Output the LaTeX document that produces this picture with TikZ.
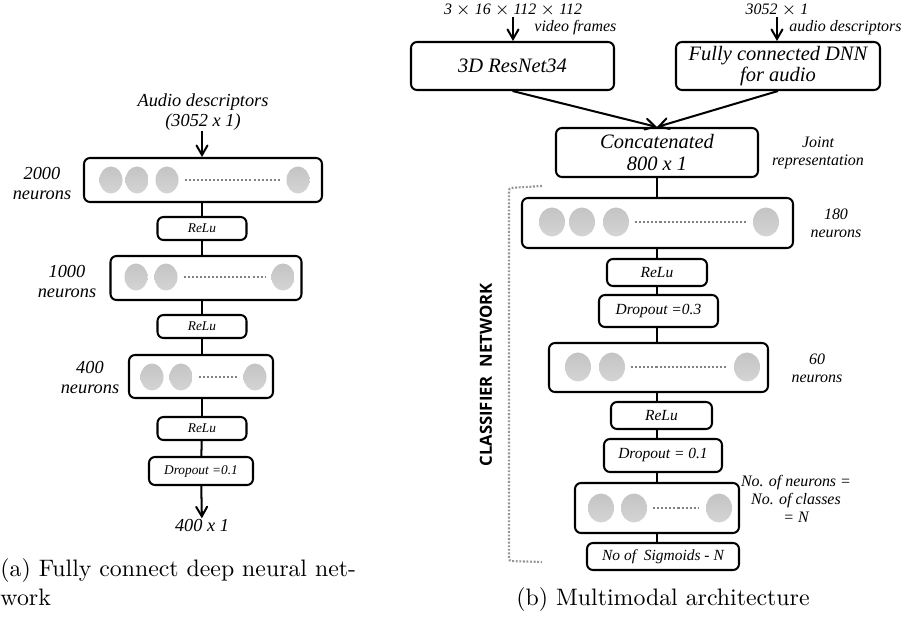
\documentclass[tikz,border=0pt]{standalone}
\usepackage{fontspec}
\newfontfamily\cambria{Liberation Serif}
\newfontfamily\calibri{Open Sans}
\usetikzlibrary{arrows}
\usetikzlibrary{shapes.geometric}
\definecolor{unittop}{RGB}{196,196,196}
\definecolor{unitbot}{RGB}{212,212,212}
\definecolor{dotgray}{RGB}{130,130,130}
\tikzset{
  wh/.style 2 args={minimum width=#1*0.42pt, minimum height=#2*0.42pt},
  layer/.style={draw, line width=0.85pt, rounded corners=2.5pt, fill=white, inner sep=0},
  opl/.style={layer, font=\cambria\itshape\fontsize{5.6}{6.5}\selectfont},
  opr/.style={layer, font=\cambria\itshape\fontsize{6.5}{7.5}\selectfont},
  blk/.style={layer, align=center, font=\cambria\itshape\fontsize{8.6}{9}\selectfont},
  lbll/.style={align=center, inner sep=0, font=\cambria\itshape\fontsize{7.7}{8.4}\selectfont},
  lblr/.style={align=center, inner sep=0, font=\cambria\itshape\fontsize{6.7}{7.6}\selectfont},
  unit/.style={ellipse, inner sep=0, top color=unittop, bottom color=unitbot},
  dots/.style={draw=dotgray, line width=0.9pt, dash pattern=on 0.85pt off 0.85pt,
    shorten >=2.6pt, shorten <=2.4pt},
  link/.style={line width=0.85pt},
  arrow/.style={->, >=angle 60, line width=0.85pt}
}

\begin{document}
\begin{tikzpicture}[x=0.42pt, y=-0.42pt]
\useasboundingbox (0,0) rectangle (906,623);

% (a) fully connected DNN
\node[lbll] (ain) at (203,112) {Audio descriptors\\(3052 x 1)};
\node[layer, wh={238}{44}] (a1) at (203,180) {};
\node[opl, wh={89}{23}] (ar1) at (202,228.5) {ReLu};
\node[layer, wh={191}{44}] (a2) at (206,278) {};
\node[opl, wh={89}{23}] (ar2) at (202,326.5) {ReLu};
\node[layer, wh={144}{43}] (a3) at (201,376.5) {};
\node[opl, wh={89}{23}] (ar3) at (202,428.5) {ReLu};
\node[opl, wh={104}{28}] (ad1) at (201,471) {Dropout =0.1};
\node[lbll] (aout) at (202,525) {400 x 1};

\node[lbll] at (42,184) {2000\\neurons};
\node[lbll] at (67,282) {1000\\neurons};
\node[lbll] at (90,378) {400\\neurons};

\foreach \x [count=\i] in {111,137,167,298}
  \node[unit, wh={23}{27}] (u1-\i) at (\x,180) {};
\draw[dots] (u1-3) -- (u1-4);
\foreach \x [count=\i] in {136,166,283}
  \node[unit, wh={23}{27}] (u2-\i) at (\x,277) {};
\draw[dots] (u2-2) -- (u2-3);
\foreach \x [count=\i] in {152,181,255}
  \node[unit, wh={23}{27}] (u3-\i) at (\x,377) {};
\draw[dots] (u3-2) -- (u3-3);

\draw[arrow] (ar1 |- ain.south) -- (ar1 |- a1.north);
\draw[link] (ar1 |- a1.south) -- (ar1);
\draw[link] (ar1) -- (ar1 |- a2.north);
\draw[link] (ar2 |- a2.south) -- (ar2);
\draw[link] (ar2) -- (ar2 |- a3.north);
\draw[link] (ar3 |- a3.south) -- (ar3);
\draw[link] (ar3) -- (ad1);
\draw[arrow] (ad1) -- (aout);

% (b) multimodal architecture
\node[lblr] (vin) at (513,10) {3 $\times$ 16 $\times$ 112 $\times$ 112};
\node[lblr, anchor=west] at (534,28) {video frames};
\node[lblr] (sin) at (777,10) {3052 $\times$ 1};
\node[lblr, anchor=west] at (789,28) {audio descriptors};
\node[blk, wh={203}{48}] (res) at (512.5,66) {3D ResNet34};
\node[blk, wh={204}{48}] (dnn) at (778,66) {Fully connected DNN\\for audio};
\node[blk, wh={202}{49}] (cat) at (657,152.5) {Concatenated\\800 x 1};
\node[lblr] at (818,153) {Joint\\representation};

\node[layer, wh={271}{50}] (h1) at (657.5,223) {};
\node[opr, wh={100}{27}] (hr1) at (657,272.5) {ReLu};
\node[opr, wh={119}{32}] (hd1) at (658.5,311) {Dropout =0.3};
\node[layer, wh={219}{49}] (h2) at (658.5,367.5) {};
\node[opr, wh={101}{27}] (hr2) at (661.5,415.5) {ReLu};
\node[opr, wh={118}{33}] (hd2) at (663,455.5) {Dropout = 0.1};
\node[layer, wh={164}{50}] (h3) at (657,508) {};
\node[opr, wh={152}{27}] (sg) at (663,556.5) {No of~ Sigmoids - N};

\node[lblr] at (836,223) {180\\neurons};
\node[lblr] at (817,368) {60\\neurons};
\node[lblr] at (796,499) {No. of neurons =\\No. of classes\\= N};

\foreach \x [count=\i] in {552,582,616,766}
  \node[unit, wh={26}{29}] (v1-\i) at (\x,222) {};
\draw[dots] (v1-3) -- (v1-4);
\foreach \x [count=\i] in {578,612,747}
  \node[unit, wh={26}{29}] (v2-\i) at (\x,367) {};
\draw[dots] (v2-2) -- (v2-3);
\foreach \x [count=\i] in {601,634,719}
  \node[unit, wh={26}{29}] (v3-\i) at (\x,508) {};
\draw[dots] (v3-2) -- (v3-3);

\draw[arrow] (vin) -- (vin |- res.north);
\draw[arrow] (sin) -- (sin |- dnn.north);
\draw[arrow] (res.south) -- (cat.north);
\draw[arrow] (dnn.south) -- (cat.north);
\draw[link] (cat) -- (cat |- h1.north);
\draw[link] (cat |- h1.south) -- (cat |- hr1.north);
\draw[link] (cat |- hr1.south) -- (cat |- hd1.north);
\draw[link] (cat |- hd1.south) -- (cat |- h2.north);
\draw[link] (cat |- h2.south) -- (cat |- hr2.north);
\draw[link] (cat |- hr2.south) -- (cat |- hd2.north);
\draw[link] (cat |- hd2.south) -- (cat |- h3.north);
\draw[link] (cat |- h3.south) -- (cat |- sg.north);

% classifier bracket
\draw[dotgray!85, line width=0.9pt, dash pattern=on 0.8pt off 0.7pt, rounded corners=1pt]
  (542,186) -- (509,188) -- (509,561) -- (542,562);
\node[rotate=90, inner sep=0, font=\calibri\bfseries\fontsize{7}{8}\selectfont] (cls) at (486,375)
  {CLASSIFIER~~NETWORK};

% captions
\node[anchor=west, align=left, inner sep=0] (capa) at (0,582)
  {(a) Fully connect deep neural net-\\work};
\node[inner sep=0] (capb) at (663,600) {(b) Multimodal architecture};
\end{tikzpicture}
\end{document}
